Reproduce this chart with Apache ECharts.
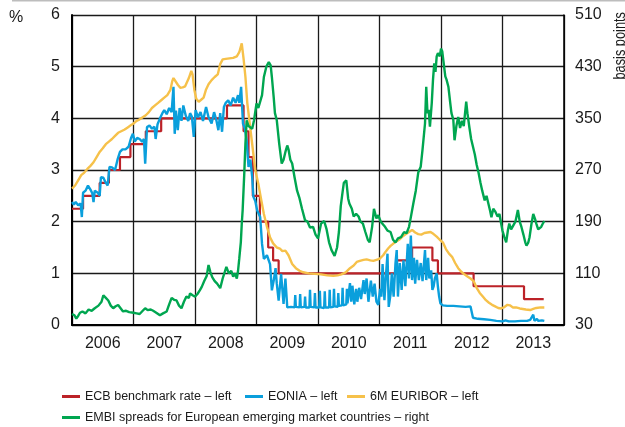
<!DOCTYPE html>
<html>
<head>
<meta charset="utf-8">
<script src="https://cdn.jsdelivr.net/npm/echarts@6/dist/echarts.min.js"></script>
<style>
  html, body { margin: 0; padding: 0; background: #fff; }
  #chart { width: 625px; height: 427px; }
</style>
</head>
<body>
<div id="chart"></div>
<script>
// year labels shown under the bands
var years = ["2006", "2007", "2008", "2009", "2010", "2011", "2012", "2013"];

// ECB main refinancing rate, % (value holds from the date on), [decimal year, value]
var ecbRate = [
  [2006.00, 2.25], [2006.18, 2.50], [2006.45, 2.75], [2006.60, 3.00], [2006.78, 3.25],
  [2006.95, 3.50], [2007.20, 3.75], [2007.45, 4.00], [2008.52, 4.25], [2008.79, 3.75],
  [2008.87, 3.25], [2008.94, 2.50], [2009.055, 2.00], [2009.19, 1.50], [2009.27, 1.25],
  [2009.36, 1.00], [2011.28, 1.25], [2011.53, 1.50], [2011.86, 1.25], [2011.95, 1.00],
  [2012.53, 0.75], [2013.35, 0.50], [2013.67, 0.50]
];

// EONIA, %
var eonia = [
  [2006.00, 2.38], [2006.03, 2.33], [2006.06, 2.38], [2006.10, 2.32], [2006.14, 2.35], [2006.16, 2.09],
  [2006.18, 2.56], [2006.22, 2.60], [2006.26, 2.70], [2006.30, 2.62], [2006.33, 2.55], [2006.35, 2.38],
  [2006.37, 2.60], [2006.42, 2.56], [2006.45, 2.50], [2006.47, 2.86], [2006.51, 2.85], [2006.55, 2.75],
  [2006.58, 2.70], [2006.61, 3.06], [2006.65, 3.05], [2006.70, 3.00], [2006.74, 3.20], [2006.78, 3.35],
  [2006.82, 3.40], [2006.87, 3.40], [2006.92, 3.45], [2006.96, 3.62], [2006.99, 3.70],
  [2007.02, 3.55], [2007.06, 3.62], [2007.10, 3.60], [2007.14, 3.55], [2007.17, 3.60], [2007.19, 3.12],
  [2007.22, 3.83], [2007.26, 3.86], [2007.30, 3.80], [2007.34, 3.84], [2007.36, 3.60], [2007.39, 3.88],
  [2007.43, 4.00], [2007.47, 4.10], [2007.50, 4.16], [2007.54, 4.08], [2007.58, 4.20], [2007.62, 4.12],
  [2007.65, 4.61], [2007.67, 3.70], [2007.69, 4.15], [2007.72, 3.77], [2007.75, 4.20], [2007.78, 3.95],
  [2007.81, 4.25], [2007.85, 4.05], [2007.89, 3.95], [2007.92, 4.10], [2007.95, 4.03], [2007.98, 3.64],
  [2008.01, 4.16], [2008.05, 4.02], [2008.09, 4.12], [2008.13, 3.95], [2008.18, 4.22], [2008.22, 4.02],
  [2008.27, 3.90], [2008.31, 4.12], [2008.35, 3.95], [2008.38, 3.77], [2008.41, 4.10], [2008.44, 3.74],
  [2008.47, 4.22], [2008.50, 4.30], [2008.54, 4.35], [2008.58, 4.25], [2008.62, 4.40], [2008.66, 4.30],
  [2008.70, 4.45], [2008.72, 4.30], [2008.75, 4.61], [2008.78, 3.90], [2008.81, 3.80], [2008.84, 3.57],
  [2008.87, 3.06], [2008.90, 3.20], [2008.93, 2.86], [2008.95, 2.48], [2008.98, 2.40],
  [2009.01, 2.22], [2009.06, 2.09], [2009.09, 1.57], [2009.12, 1.28], [2009.17, 1.35], [2009.22, 1.18],
  [2009.25, 0.67], [2009.28, 0.86], [2009.31, 1.10], [2009.33, 0.80], [2009.36, 0.47], [2009.40, 0.99],
  [2009.44, 0.41], [2009.47, 0.90], [2009.50, 0.34], [2009.56, 0.35], [2009.62, 0.34], [2009.63, 0.58],
  [2009.64, 0.35], [2009.70, 0.34], [2009.71, 0.60], [2009.72, 0.34], [2009.78, 0.35], [2009.79, 0.55],
  [2009.80, 0.34], [2009.86, 0.34], [2009.87, 0.68], [2009.88, 0.35], [2009.94, 0.34], [2009.95, 0.62],
  [2009.96, 0.34],
  [2010.02, 0.34], [2010.03, 0.66], [2010.04, 0.34], [2010.10, 0.33], [2010.11, 0.65], [2010.12, 0.34],
  [2010.18, 0.34], [2010.19, 0.68], [2010.20, 0.34], [2010.25, 0.35], [2010.26, 0.70], [2010.27, 0.36],
  [2010.32, 0.35], [2010.33, 0.62], [2010.34, 0.37], [2010.39, 0.38], [2010.40, 0.72], [2010.41, 0.38],
  [2010.46, 0.40], [2010.47, 0.70], [2010.48, 0.42], [2010.52, 0.81], [2010.54, 0.45], [2010.56, 0.76],
  [2010.59, 0.40], [2010.62, 0.70], [2010.64, 0.45], [2010.67, 0.72], [2010.70, 0.50], [2010.74, 0.87],
  [2010.76, 0.60], [2010.79, 0.90], [2010.82, 0.45], [2010.86, 0.86], [2010.89, 0.55], [2010.92, 0.80],
  [2010.95, 0.45], [2010.98, 0.39],
  [2011.01, 0.70], [2011.03, 0.55], [2011.05, 1.18], [2011.08, 0.48], [2011.10, 0.87], [2011.13, 1.38],
  [2011.15, 0.35], [2011.18, 0.60], [2011.20, 1.00], [2011.23, 0.55], [2011.26, 1.20], [2011.28, 1.45],
  [2011.30, 0.55], [2011.33, 1.20], [2011.36, 0.68], [2011.39, 1.25], [2011.42, 0.75], [2011.46, 1.57],
  [2011.48, 0.90], [2011.51, 1.73], [2011.53, 0.87], [2011.56, 1.30], [2011.58, 0.80], [2011.61, 1.26],
  [2011.64, 0.87], [2011.67, 1.20], [2011.70, 0.85], [2011.74, 1.45], [2011.76, 0.87], [2011.79, 1.30],
  [2011.81, 0.90], [2011.84, 1.06], [2011.86, 0.68], [2011.88, 0.75], [2011.90, 0.90], [2011.93, 1.00],
  [2011.95, 0.74], [2011.97, 0.55], [2011.99, 0.42],
  [2012.03, 0.38], [2012.10, 0.37], [2012.20, 0.37], [2012.30, 0.36], [2012.40, 0.35], [2012.48, 0.36],
  [2012.51, 0.33], [2012.52, 0.14], [2012.60, 0.12], [2012.70, 0.11], [2012.80, 0.10], [2012.90, 0.08],
  [2013.00, 0.07], [2013.05, 0.09], [2013.10, 0.07], [2013.20, 0.07], [2013.30, 0.08], [2013.40, 0.08],
  [2013.45, 0.10], [2013.48, 0.08], [2013.50, 0.20], [2013.52, 0.08], [2013.56, 0.12], [2013.58, 0.08],
  [2013.64, 0.09], [2013.68, 0.08]
];

// 6M EURIBOR, %
var euribor6m = [
  [2006.00, 2.64], [2006.05, 2.70], [2006.10, 2.80], [2006.15, 2.90], [2006.20, 2.95], [2006.25, 3.02],
  [2006.30, 3.08], [2006.35, 3.15], [2006.40, 3.25], [2006.45, 3.35], [2006.50, 3.42], [2006.55, 3.50],
  [2006.60, 3.55], [2006.65, 3.60], [2006.70, 3.66], [2006.75, 3.72], [2006.80, 3.75], [2006.85, 3.78],
  [2006.90, 3.82], [2006.95, 3.86], [2007.00, 3.90], [2007.05, 3.95], [2007.10, 3.98], [2007.15, 4.02],
  [2007.20, 4.06], [2007.25, 4.12], [2007.30, 4.20], [2007.35, 4.25], [2007.40, 4.30], [2007.45, 4.35],
  [2007.50, 4.40], [2007.55, 4.45], [2007.60, 4.55], [2007.63, 4.72], [2007.65, 4.78], [2007.68, 4.75],
  [2007.72, 4.65], [2007.76, 4.59], [2007.80, 4.60], [2007.84, 4.62], [2007.90, 4.78], [2007.94, 4.92],
  [2007.96, 4.85], [2007.99, 4.55], [2008.02, 4.38], [2008.06, 4.32], [2008.10, 4.36], [2008.14, 4.40],
  [2008.18, 4.56], [2008.22, 4.66], [2008.27, 4.74], [2008.32, 4.80], [2008.37, 4.85], [2008.41, 5.05],
  [2008.45, 5.14], [2008.50, 5.15], [2008.56, 5.16], [2008.62, 5.17], [2008.68, 5.20], [2008.72, 5.28],
  [2008.76, 5.45], [2008.79, 5.15], [2008.82, 4.80], [2008.85, 4.30], [2008.88, 4.00], [2008.92, 3.60],
  [2008.95, 3.30], [2008.98, 3.00], [2009.03, 2.73], [2009.08, 2.40], [2009.12, 2.15], [2009.17, 1.90],
  [2009.22, 1.70], [2009.27, 1.58], [2009.33, 1.50], [2009.38, 1.48], [2009.42, 1.43], [2009.47, 1.44],
  [2009.52, 1.35], [2009.58, 1.18], [2009.64, 1.10], [2009.70, 1.05], [2009.76, 1.02], [2009.85, 1.00],
  [2009.95, 0.99], [2010.05, 0.98], [2010.15, 0.96], [2010.25, 0.95], [2010.32, 0.96], [2010.38, 0.98],
  [2010.45, 1.02], [2010.52, 1.10], [2010.58, 1.15], [2010.63, 1.22], [2010.68, 1.24], [2010.74, 1.26],
  [2010.79, 1.27], [2010.85, 1.25], [2010.90, 1.24], [2010.95, 1.26], [2011.00, 1.28], [2011.06, 1.35],
  [2011.10, 1.42], [2011.14, 1.48], [2011.18, 1.53], [2011.23, 1.58], [2011.28, 1.62], [2011.33, 1.66],
  [2011.38, 1.72], [2011.43, 1.76], [2011.48, 1.80], [2011.53, 1.84], [2011.58, 1.79], [2011.63, 1.76],
  [2011.68, 1.75], [2011.73, 1.78], [2011.78, 1.79], [2011.83, 1.80], [2011.88, 1.76], [2011.93, 1.71],
  [2011.98, 1.65], [2012.03, 1.60], [2012.08, 1.47], [2012.13, 1.38], [2012.18, 1.32], [2012.23, 1.20],
  [2012.28, 1.10], [2012.33, 1.03], [2012.38, 0.98], [2012.43, 0.94], [2012.48, 0.90], [2012.53, 0.85],
  [2012.58, 0.72], [2012.63, 0.62], [2012.68, 0.55], [2012.73, 0.48], [2012.78, 0.43], [2012.83, 0.39],
  [2012.88, 0.36], [2012.93, 0.33], [2012.98, 0.32], [2013.02, 0.34], [2013.08, 0.39], [2013.12, 0.38],
  [2013.17, 0.34], [2013.22, 0.34], [2013.28, 0.32], [2013.33, 0.31], [2013.38, 0.30], [2013.45, 0.29],
  [2013.50, 0.31], [2013.55, 0.33], [2013.62, 0.34], [2013.68, 0.34]
];

// EMBI spreads, European emerging markets, basis points (right axis)
var embiSpread = [
  [2006.00, 47], [2006.04, 45], [2006.07, 40], [2006.10, 44], [2006.13, 49], [2006.17, 51],
  [2006.22, 48], [2006.27, 54], [2006.32, 52], [2006.37, 56], [2006.43, 60], [2006.48, 66],
  [2006.51, 76], [2006.55, 72], [2006.59, 68], [2006.63, 60], [2006.67, 56], [2006.71, 59],
  [2006.75, 61], [2006.79, 56], [2006.83, 51], [2006.88, 52], [2006.93, 50], [2007.00, 49],
  [2007.05, 48], [2007.10, 47], [2007.15, 52], [2007.19, 56], [2007.23, 53], [2007.28, 54],
  [2007.32, 52], [2007.37, 49], [2007.43, 45], [2007.48, 48], [2007.54, 51], [2007.58, 62],
  [2007.62, 72], [2007.66, 69], [2007.70, 68], [2007.74, 60], [2007.78, 56], [2007.82, 66],
  [2007.86, 74], [2007.90, 72], [2007.92, 79], [2007.96, 76], [2008.00, 74], [2008.04, 78],
  [2008.08, 84], [2008.11, 89], [2008.15, 98], [2008.19, 106], [2008.22, 123], [2008.25, 112],
  [2008.28, 104], [2008.32, 98], [2008.36, 94], [2008.41, 87], [2008.45, 102], [2008.49, 114],
  [2008.51, 120], [2008.55, 110], [2008.59, 114], [2008.62, 105], [2008.65, 110], [2008.68, 102],
  [2008.70, 114], [2008.72, 133], [2008.745, 158], [2008.76, 186], [2008.775, 208], [2008.80, 262],
  [2008.82, 311], [2008.84, 347], [2008.87, 338], [2008.90, 340], [2008.93, 334], [2008.96, 347],
  [2009.00, 373], [2009.03, 366], [2009.06, 363], [2009.09, 386], [2009.12, 414], [2009.16, 430],
  [2009.20, 437], [2009.23, 432], [2009.25, 414], [2009.28, 382], [2009.30, 358], [2009.33, 347],
  [2009.37, 310], [2009.41, 280], [2009.44, 286], [2009.47, 298], [2009.50, 308], [2009.52, 302],
  [2009.55, 286], [2009.58, 280], [2009.62, 258], [2009.66, 238], [2009.70, 226], [2009.74, 210],
  [2009.79, 192], [2009.83, 190], [2009.87, 181], [2009.92, 182], [2009.96, 170], [2010.00, 164],
  [2010.05, 187], [2010.10, 191], [2010.14, 178], [2010.18, 158], [2010.22, 146], [2010.27, 137],
  [2010.31, 150], [2010.34, 174], [2010.37, 214], [2010.40, 236], [2010.42, 250], [2010.46, 254],
  [2010.49, 226], [2010.51, 218], [2010.55, 210], [2010.58, 198], [2010.62, 202], [2010.66, 198],
  [2010.69, 190], [2010.73, 187], [2010.77, 174], [2010.81, 162], [2010.84, 158], [2010.88, 182],
  [2010.91, 210], [2010.95, 195], [2010.98, 200], [2011.02, 190], [2011.05, 187], [2011.09, 182],
  [2011.13, 176], [2011.18, 174], [2011.22, 162], [2011.26, 158], [2011.30, 164], [2011.35, 166],
  [2011.40, 174], [2011.44, 172], [2011.48, 182], [2011.51, 197], [2011.55, 218], [2011.59, 238],
  [2011.63, 266], [2011.67, 275], [2011.70, 302], [2011.74, 342], [2011.76, 399], [2011.78, 358],
  [2011.80, 363], [2011.82, 337], [2011.85, 374], [2011.87, 410], [2011.89, 435], [2011.91, 422],
  [2011.93, 446], [2011.95, 451], [2011.98, 446], [2012.00, 458], [2012.02, 454], [2012.04, 438],
  [2012.07, 415], [2012.09, 410], [2012.12, 399], [2012.15, 374], [2012.17, 358], [2012.20, 348],
  [2012.22, 316], [2012.25, 338], [2012.28, 352], [2012.31, 335], [2012.34, 346], [2012.37, 338],
  [2012.41, 376], [2012.43, 358], [2012.46, 337], [2012.49, 318], [2012.52, 306], [2012.55, 294],
  [2012.58, 278], [2012.61, 266], [2012.64, 251], [2012.67, 238], [2012.71, 223], [2012.74, 230],
  [2012.77, 218], [2012.80, 206], [2012.82, 197], [2012.85, 210], [2012.88, 206], [2012.92, 198],
  [2012.95, 202], [2012.98, 186], [2013.00, 176], [2013.03, 166], [2013.06, 158], [2013.09, 178],
  [2013.11, 187], [2013.14, 178], [2013.17, 176], [2013.21, 190], [2013.25, 208], [2013.28, 190],
  [2013.31, 181], [2013.34, 170], [2013.37, 158], [2013.39, 153], [2013.42, 158], [2013.44, 166],
  [2013.47, 186], [2013.50, 202], [2013.53, 194], [2013.55, 187], [2013.58, 178], [2013.60, 176],
  [2013.63, 182], [2013.65, 186], [2013.68, 191]
];

var FONT = "'Liberation Sans Narrow', 'Liberation Sans', Arial, sans-serif";
var gridColor = "#1a1a1a";

// one legend per entry so each sits where the original puts it
function legendItem(name, left, top) {
  return {
    left: left, top: top, padding: 0, itemWidth: 18, itemHeight: 3, icon: "rect",
    textStyle: { fontFamily: FONT, fontSize: 12.5, color: "#1a1a1a" },
    data: [name]
  };
}

var myChart = echarts.init(document.getElementById("chart"));
var option = {
  animation: false,
  backgroundColor: "#fff",
  textStyle: { fontFamily: FONT },
  grid: { left: 72, right: 61, top: 15, bottom: 102, containLabel: false },
  legend: [
    legendItem("ECB benchmark rate – left", 62, 390),
    legendItem("EONIA – left", 245, 390),
    legendItem("6M EURIBOR – left", 347, 390),
    legendItem("EMBI spreads for European emerging market countries – right", 62, 411)
  ],
  xAxis: [
    {
      type: "value", min: 2006, max: 2014, interval: 1,
      axisLine: { show: true, onZero: false, lineStyle: { color: "#000", width: 2 } },
      axisTick: { show: false },
      axisLabel: { show: false },
      splitLine: { show: true, lineStyle: { color: gridColor, width: 1.3 } }
    },
    {
      type: "category", data: years, position: "bottom", boundaryGap: true,
      axisLine: { show: false }, axisTick: { show: false },
      axisLabel: { fontFamily: FONT, fontSize: 16, color: "#1a1a1a", margin: 11 },
      splitLine: { show: false }
    }
  ],
  yAxis: [
    {
      type: "value", min: 0, max: 6, interval: 1,
      axisLine: { show: true, lineStyle: { color: "#000", width: 2 } },
      axisTick: { show: false },
      axisLabel: { fontFamily: FONT, fontSize: 16, color: "#1a1a1a", margin: 12 },
      splitLine: { show: true, lineStyle: { color: gridColor, width: 1.3 } }
    },
    {
      type: "value", min: 30, max: 510, interval: 80, position: "right",
      axisLine: { show: true, lineStyle: { color: "#000", width: 1.5 } },
      axisTick: { show: false },
      axisLabel: { fontFamily: FONT, fontSize: 16, color: "#1a1a1a", margin: 11 },
      splitLine: { show: false }
    }
  ],
  graphic: [
    { type: "rect", shape: { x: 12, y: 0, width: 613, height: 1.5 }, style: { fill: "#bdbdbd" } },
    { type: "text", x: 9, y: 10, style: { text: "%", font: "16px " + FONT, fill: "#1a1a1a" } },
    {
      type: "text", x: 621, y: 12, rotation: Math.PI / 2, scaleX: 0.8,
      style: { text: "basis points", font: "16px " + FONT, fill: "#1a1a1a", align: "right", verticalAlign: "middle" }
    }
  ],
  series: [
    {
      name: "ECB benchmark rate – left", type: "line", step: "end", data: ecbRate,
      xAxisIndex: 0, yAxisIndex: 0, showSymbol: false, z: 2,
      itemStyle: { color: "#bc2228" }, lineStyle: { color: "#bc2228", width: 2.2 }
    },
    {
      name: "EONIA – left", type: "line", data: eonia,
      xAxisIndex: 0, yAxisIndex: 0, showSymbol: false, z: 3,
      itemStyle: { color: "#0a9fdc" }, lineStyle: { color: "#0a9fdc", width: 2.4 }
    },
    {
      name: "6M EURIBOR – left", type: "line", data: euribor6m,
      xAxisIndex: 0, yAxisIndex: 0, showSymbol: false, z: 4,
      itemStyle: { color: "#f6c14a" }, lineStyle: { color: "#f6c14a", width: 2.4 }
    },
    {
      name: "EMBI spreads for European emerging market countries – right", type: "line", data: embiSpread,
      xAxisIndex: 0, yAxisIndex: 1, showSymbol: false, z: 5,
      itemStyle: { color: "#00a650" }, lineStyle: { color: "#00a650", width: 2.4 }
    }
  ]
};
option && myChart.setOption(option);
</script>
</body>
</html>
